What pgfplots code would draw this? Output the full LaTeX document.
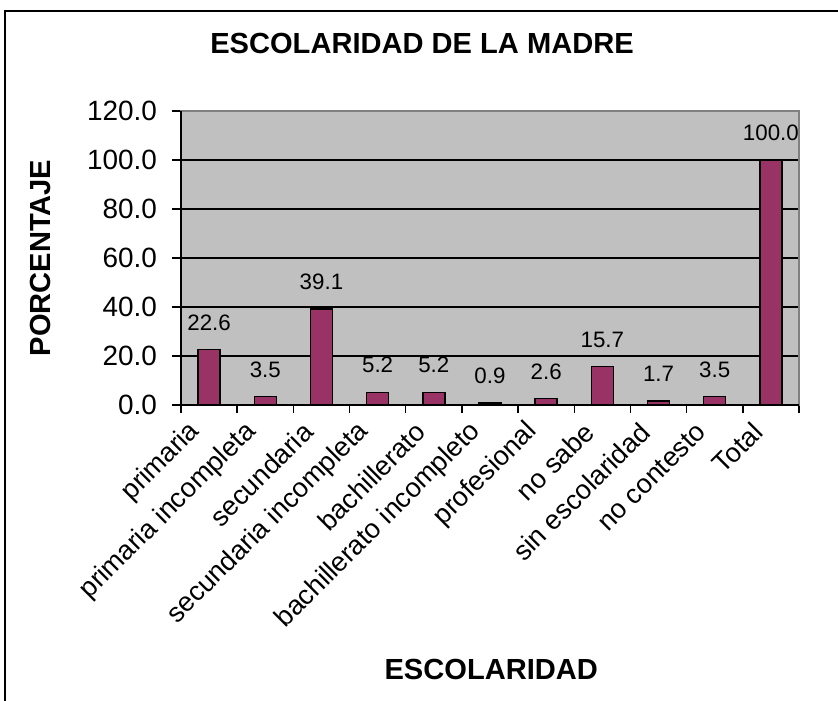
\documentclass[border=0pt]{standalone}
\usepackage{fontspec}
\setmainfont{Liberation Sans}
\usepackage{pgfplots}
\pgfplotsset{compat=1.18}
\definecolor{plotGray}{HTML}{C0C0C0}
\definecolor{barPlum}{HTML}{993366}
\definecolor{edgeGray}{HTML}{808080}

\begin{document}
\begin{tikzpicture}
  \useasboundingbox (0,0) rectangle (419bp,350.5bp);
  % outer chart frame (cut off at the right and bottom)
  \draw[black, line width=1bp] (419bp,345bp) -- (2.5bp,345bp) -- (2.5bp,0bp);
  \begin{axis}[
    at={(90.5bp,148bp)}, anchor=south west,
    scale only axis,
    width=309bp, height=147bp,
    xmin=-0.5, xmax=10.5,
    ymin=0, ymax=120,
    ytick={0,20,...,120},
    xtick={0,...,10},
    xticklabels={primaria,primaria incompleta,secundaria,secundaria incompleta,bachillerato,bachillerato incompleto,profesional,no sabe,sin escolaridad,no contesto,Total},
    minor xtick={-0.5,0.5,...,10.5},
    xtick pos=bottom, ytick pos=left,
    tick align=outside,
    major tick length=4.5bp,
    minor tick length=4bp,
    major x tick style={draw=none},
    tick style={black, line width=0.75bp},
    axis line style={edgeGray, line width=0.75bp},
    axis background/.style={fill=plotGray},
    ymajorgrids,
    grid style={black, line width=0.75bp},
    /pgf/number format/assume math mode=true,
    yticklabel style={/pgf/number format/fixed, /pgf/number format/fixed zerofill, /pgf/number format/precision=1},
    yticklabel style={font=\fontsize{14}{16}\selectfont, xshift=-4bp},
    xticklabel style={font=\fontsize{13.6}{15}\selectfont, rotate=45, anchor=east, xshift=-6bp},
    title={\bfseries ESCOLARIDAD DE LA MADRE},
    title style={font=\fontsize{14.6}{17}\selectfont, at={(rel axis cs:0.39,1.19)}, anchor=center},
    xlabel={\bfseries ESCOLARIDAD},
    xlabel style={font=\fontsize{14.6}{17}\selectfont, at={(rel axis cs:0.502,-0.901)}, anchor=center},
    ylabel={\bfseries PORCENTAJE},
    ylabel style={font=\fontsize{14.6}{17}\selectfont, at={(rel axis cs:-0.228,0.5)}, anchor=center, rotate=0},
    clip=false,
  ]
    \addplot[ybar, bar width=11bp, fill=barPlum, draw=black, line width=0.75bp,
      nodes near coords,
      nodes near coords style={font=\fontsize{11.2}{13}\selectfont, anchor=center, yshift=13.5bp,
        /pgf/number format/fixed, /pgf/number format/fixed zerofill,
        /pgf/number format/precision=1, /pgf/number format/assume math mode=true}]
      coordinates {(0,22.6) (1,3.5) (2,39.1) (3,5.2) (4,5.2) (5,0.9) (6,2.6) (7,15.7) (8,1.7) (9,3.5) (10,100.0)};
    \draw[black, line width=0.9bp] (rel axis cs:0,1) -- (rel axis cs:0,0) -- (rel axis cs:1,0);
  \end{axis}
\end{tikzpicture}
\end{document}
